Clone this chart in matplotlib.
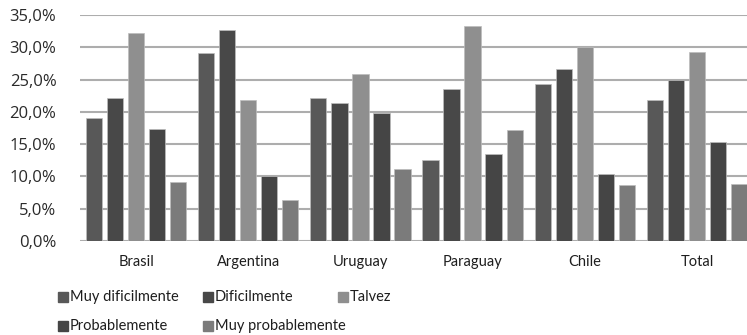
import matplotlib
matplotlib.use("Agg")
import matplotlib.pyplot as plt
from matplotlib.patches import Rectangle
import numpy as np

categories = ["Brasil", "Argentina", "Uruguay", "Paraguay", "Chile", "Total"]
series_names = ["Muy dificilmente", "Dificilmente", "Talvez", "Probablemente", "Muy probablemente"]
muy_dificilmente = [19.0, 29.1, 22.1, 12.6, 24.3, 21.8]
dificilmente = [22.1, 32.6, 21.3, 23.5, 26.6, 24.9]
talvez = [32.2, 21.9, 25.8, 33.3, 30.0, 29.2]
probablemente = [17.4, 10.0, 19.8, 13.5, 10.4, 15.4]
muy_probablemente = [9.2, 6.3, 11.1, 17.2, 8.7, 8.8]
yticks = [0, 5, 10, 15, 20, 25, 30, 35]
ytick_labels = ["0,0%", "5,0%", "10,0%", "15,0%", "20,0%", "25,0%", "30,0%", "35,0%"]

series = [muy_dificilmente, dificilmente, talvez, probablemente, muy_probablemente]
colors = ["#585858", "#484848", "#8f8f8f", "#454545", "#7b7b7b"]

fig = plt.figure(figsize=(7.47, 3.35), dpi=100)
ax = fig.add_axes([80/747, 1-241/335, 673/747, 226/335])

x = np.arange(len(categories))
pitch = 0.1875
width = 0.145
for i, (vals, c) in enumerate(zip(series, colors)):
    ax.bar(x + (i - 2) * pitch, vals, width=width, color=c, edgecolor="#bdbdbd", linewidth=0.5, zorder=3)

ax.set_xlim(-0.5, len(categories) - 0.5)
ax.set_ylim(0, 35)
ax.set_yticks(yticks)
ax.set_yticklabels(ytick_labels, fontsize=12, color="#2a2a2a", family="Open Sans")
ax.set_xticks(x)
ax.set_xticklabels(categories, fontsize=10.5, color="#1e1e1e", family="Lato")
ax.tick_params(axis="both", length=0)
ax.tick_params(axis="y", pad=17)
ax.tick_params(axis="x", pad=10)
ax.yaxis.grid(True, color="#adadad", linewidth=1.5, zorder=0)
for s in ax.spines.values():
    s.set_visible(False)

# legend, row-major layout
leg_pos = [(58, 297), (203, 297), (338, 297), (58, 326), (203, 326)]
for name, c, (px, py) in zip(series_names, colors, leg_pos):
    fig.patches.append(Rectangle((px/747, 1 - (py+5)/335), 10/747, 10/335,
                                 transform=fig.transFigure, color=c, figure=fig))
    fig.text((px+12)/747, 1 - py/335, name, fontsize=10.5, color="#1e1e1e",
             family="Lato", va="center", ha="left")

fig.savefig("out.png", dpi=100)
